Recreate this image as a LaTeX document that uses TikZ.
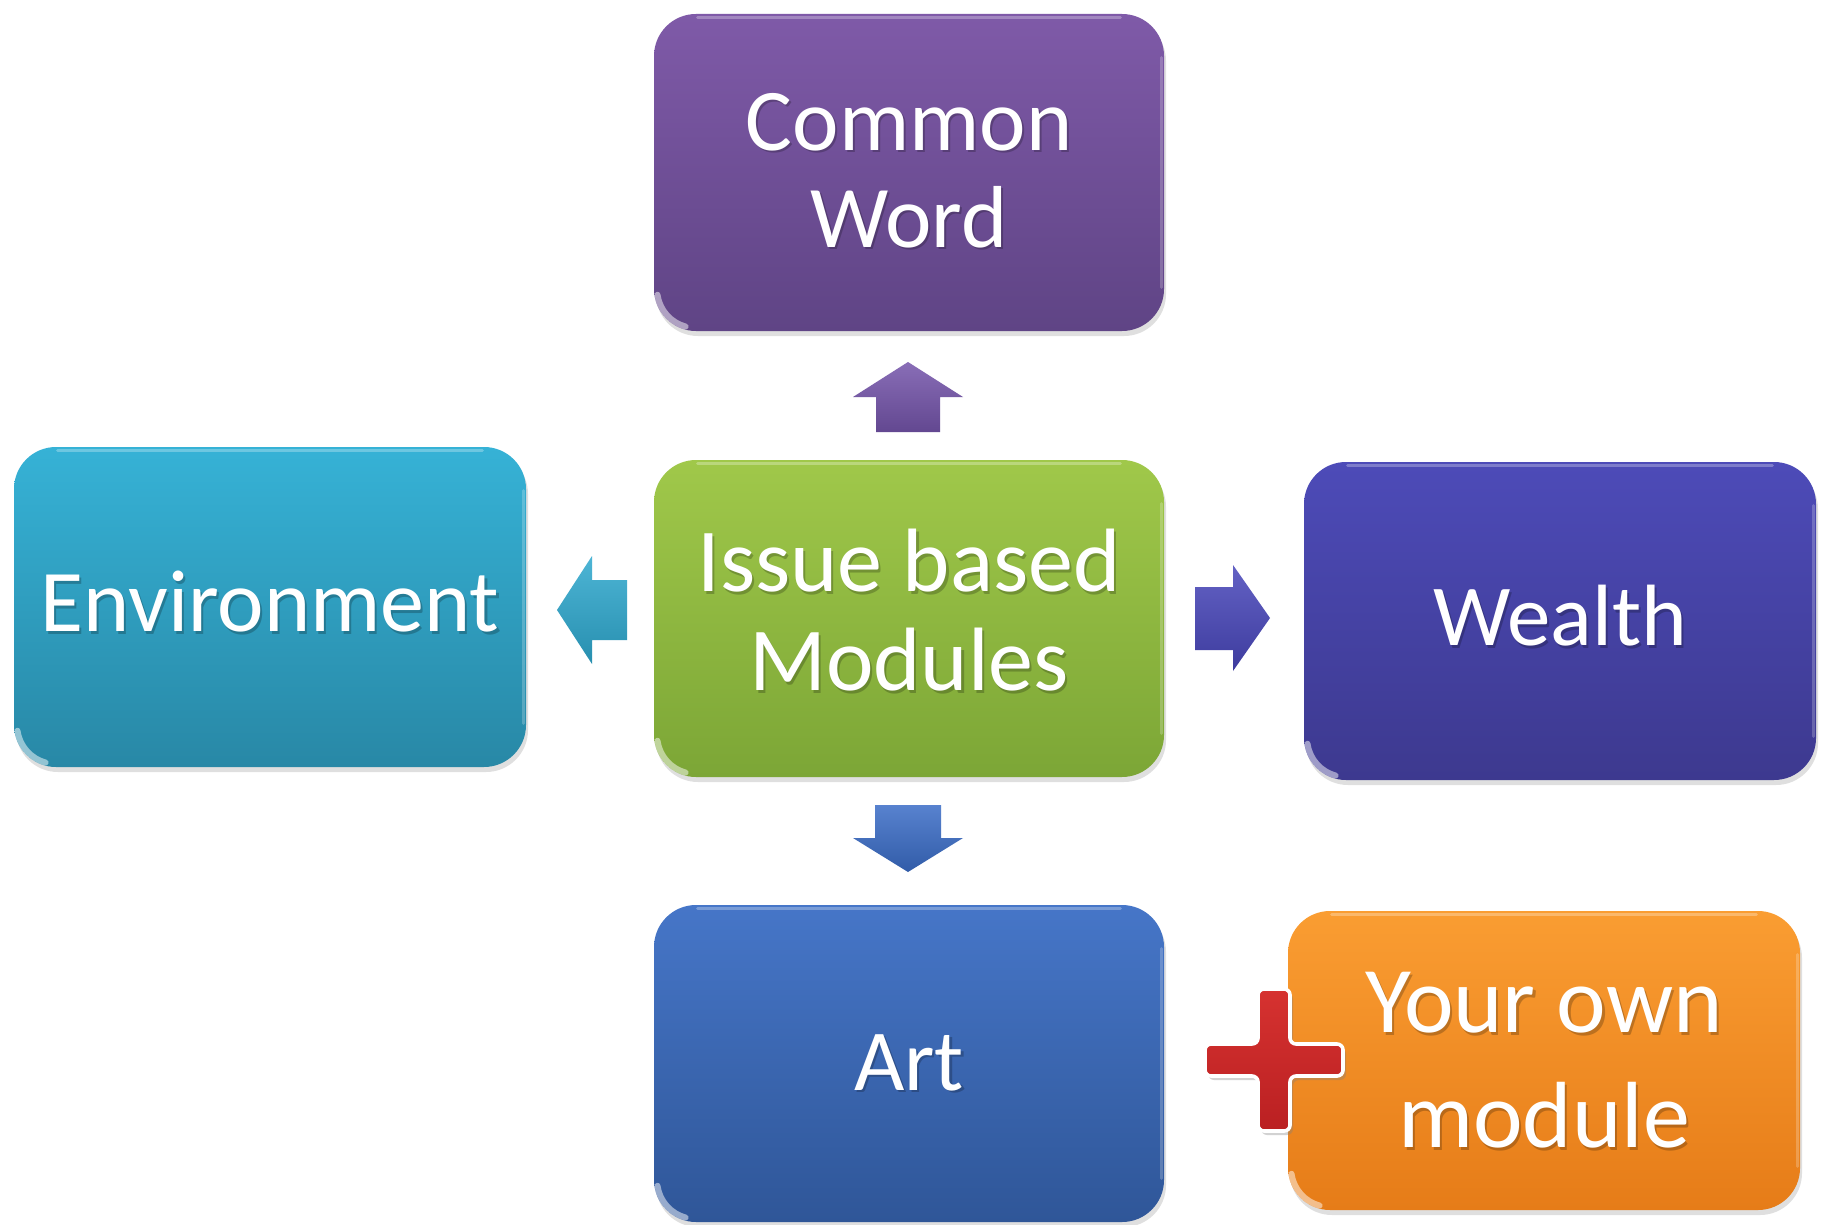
\documentclass[tikz,border=0pt]{standalone}
\usepackage{fontspec}
\setmainfont{Carlito}
\usetikzlibrary{shadows}

% box gradients (top / bottom)
\definecolor{cwTop}{RGB}{127,90,168}
\definecolor{cwBot}{RGB}{95,68,133}
\definecolor{envTop}{RGB}{54,178,214}
\definecolor{envBot}{RGB}{40,136,166}
\definecolor{ibTop}{RGB}{160,200,74}
\definecolor{ibBot}{RGB}{124,166,54}
\definecolor{weTop}{RGB}{77,75,184}
\definecolor{weBot}{RGB}{61,57,143}
\definecolor{artTop}{RGB}{70,118,200}
\definecolor{artBot}{RGB}{47,86,152}
\definecolor{ownTop}{RGB}{250,157,50}
\definecolor{ownBot}{RGB}{230,124,24}
% block arrows
\definecolor{upArr}{RGB}{116,84,170}
\definecolor{leftArr}{RGB}{46,168,206}
\definecolor{rightArr}{RGB}{72,70,186}
\definecolor{downArr}{RGB}{58,108,198}
% plus sign
\definecolor{plusTop}{RGB}{214,50,48}
\definecolor{plusBot}{RGB}{186,32,34}

\tikzset{
  modbox/.style={rectangle, rounded corners=21pt, minimum width=255pt,
    minimum height=158.5pt, inner sep=0pt,
    drop shadow={opacity=0.25, shadow xshift=1pt, shadow yshift=-2.5pt}},
  lbl/.style={text=white, align=center, inner sep=0pt},
  lblshadow/.style={text=black, opacity=0.22, align=center, inner sep=0pt},
  rim/.style={white, opacity=0.28, line width=1.5pt, line cap=round},
  gloss/.style={white, opacity=0.5, line width=3pt, line cap=round},
  blockarrow/.style={line join=miter}
}

% label with a soft dark shadow: name, node, vertical offset, size, skip, text
\newcommand\modlabel[6]{%
  \node[lblshadow, font=\fontsize{#4}{#5}\selectfont] (#1-s) at ([shift={(2.2,#3+2.2)}]#2) {#6};
  \node[lbl, font=\fontsize{#4}{#5}\selectfont] (#1) at ([shift={(0,#3)}]#2) {#6};}

% glassy rims of a box: light top edge, right edge and bottom-left corner
\newcommand\boxgloss[1]{%
  \draw[rim] ([shift={(44,4)}]#1.north west) -- ([shift={(-44,4)}]#1.north east);
  \draw[rim, opacity=0.22] ([shift={(-3,44)}]#1.north east) -- ([shift={(-3,-44)}]#1.south east);
  \draw[gloss] ([shift={(42,-42)}]#1.south west) ++(172:38.5) arc[start angle=172, end angle=105, radius=38.5];}

\begin{document}
\begin{tikzpicture}[x=0.5pt,y=-0.5pt]
\useasboundingbox (0,0) rectangle (1825,1225);
\fill[white] (0,0) rectangle (1825,1225);

% module boxes
\node[modbox, top color=cwTop, bottom color=cwBot] (cw) at (909,172.5) {};
\node[modbox, top color=envTop, bottom color=envBot, minimum width=256pt, minimum height=160pt] (env) at (270,607) {};
\node[modbox, top color=ibTop, bottom color=ibBot] (ib) at (909,618.5) {};
\node[modbox, top color=weTop, bottom color=weBot, minimum width=256pt, minimum height=159pt] (we) at (1560,621) {};
\node[modbox, top color=artTop, bottom color=artBot] (art) at (909,1063.5) {};
\node[modbox, top color=ownTop, bottom color=ownBot, minimum width=256pt, minimum height=149.5pt] (own) at (1544,1060.5) {};

\boxgloss{cw}
\boxgloss{env}
\boxgloss{ib}
\boxgloss{we}
\boxgloss{art}
\boxgloss{own}

% block arrows from the centre module
\path[blockarrow, top color=upArr!85!white, bottom color=upArr!85!black]
  (876,432) -- (876,397) -- (853,397) -- (908,362) -- (963,397) -- (940,397) -- (940,432) -- cycle;
\path[blockarrow, top color=downArr!85!white, bottom color=downArr!85!black]
  (875,805) -- (941,805) -- (941,838) -- (963,838) -- (908,872) -- (853,838) -- (875,838) -- cycle;
\path[blockarrow, top color=leftArr!85!white, bottom color=leftArr!85!black]
  (627,580) -- (592,580) -- (592,556) -- (557,610) -- (592,664) -- (592,640) -- (627,640) -- cycle;
\path[blockarrow, top color=rightArr!85!white, bottom color=rightArr!85!black]
  (1195,587) -- (1233,587) -- (1233,565) -- (1270,618) -- (1233,671) -- (1233,650) -- (1195,650) -- cycle;

% labels
\modlabel{cw-t}{cw}{-2}{44}{48.5}{Common\\Word}
\modlabel{env-t}{env}{-5}{44}{48.5}{Environment}
\modlabel{ib-t}{ib}{-8}{45}{49.5}{Issue based\\Modules}
\modlabel{we-t}{we}{-5}{43.5}{48.5}{Wealth}
\modlabel{art-t}{art}{-1}{43.5}{48.5}{Art}
\modlabel{own-t}{own}{0}{47}{57.5}{Your own\\module}

% plus sign joining the extra module
\path[draw=white, line width=1.8pt, rounded corners=3pt, top color=plusTop, bottom color=plusBot,
      drop shadow={opacity=0.35, shadow xshift=1.5pt, shadow yshift=-2pt}]
  (1258,989) -- (1290,989) -- (1290,1044) -- (1343,1044) -- (1343,1076) -- (1290,1076)
  -- (1290,1131) -- (1258,1131) -- (1258,1076) -- (1205,1076) -- (1205,1044) -- (1258,1044) -- cycle;
\end{tikzpicture}
\end{document}
